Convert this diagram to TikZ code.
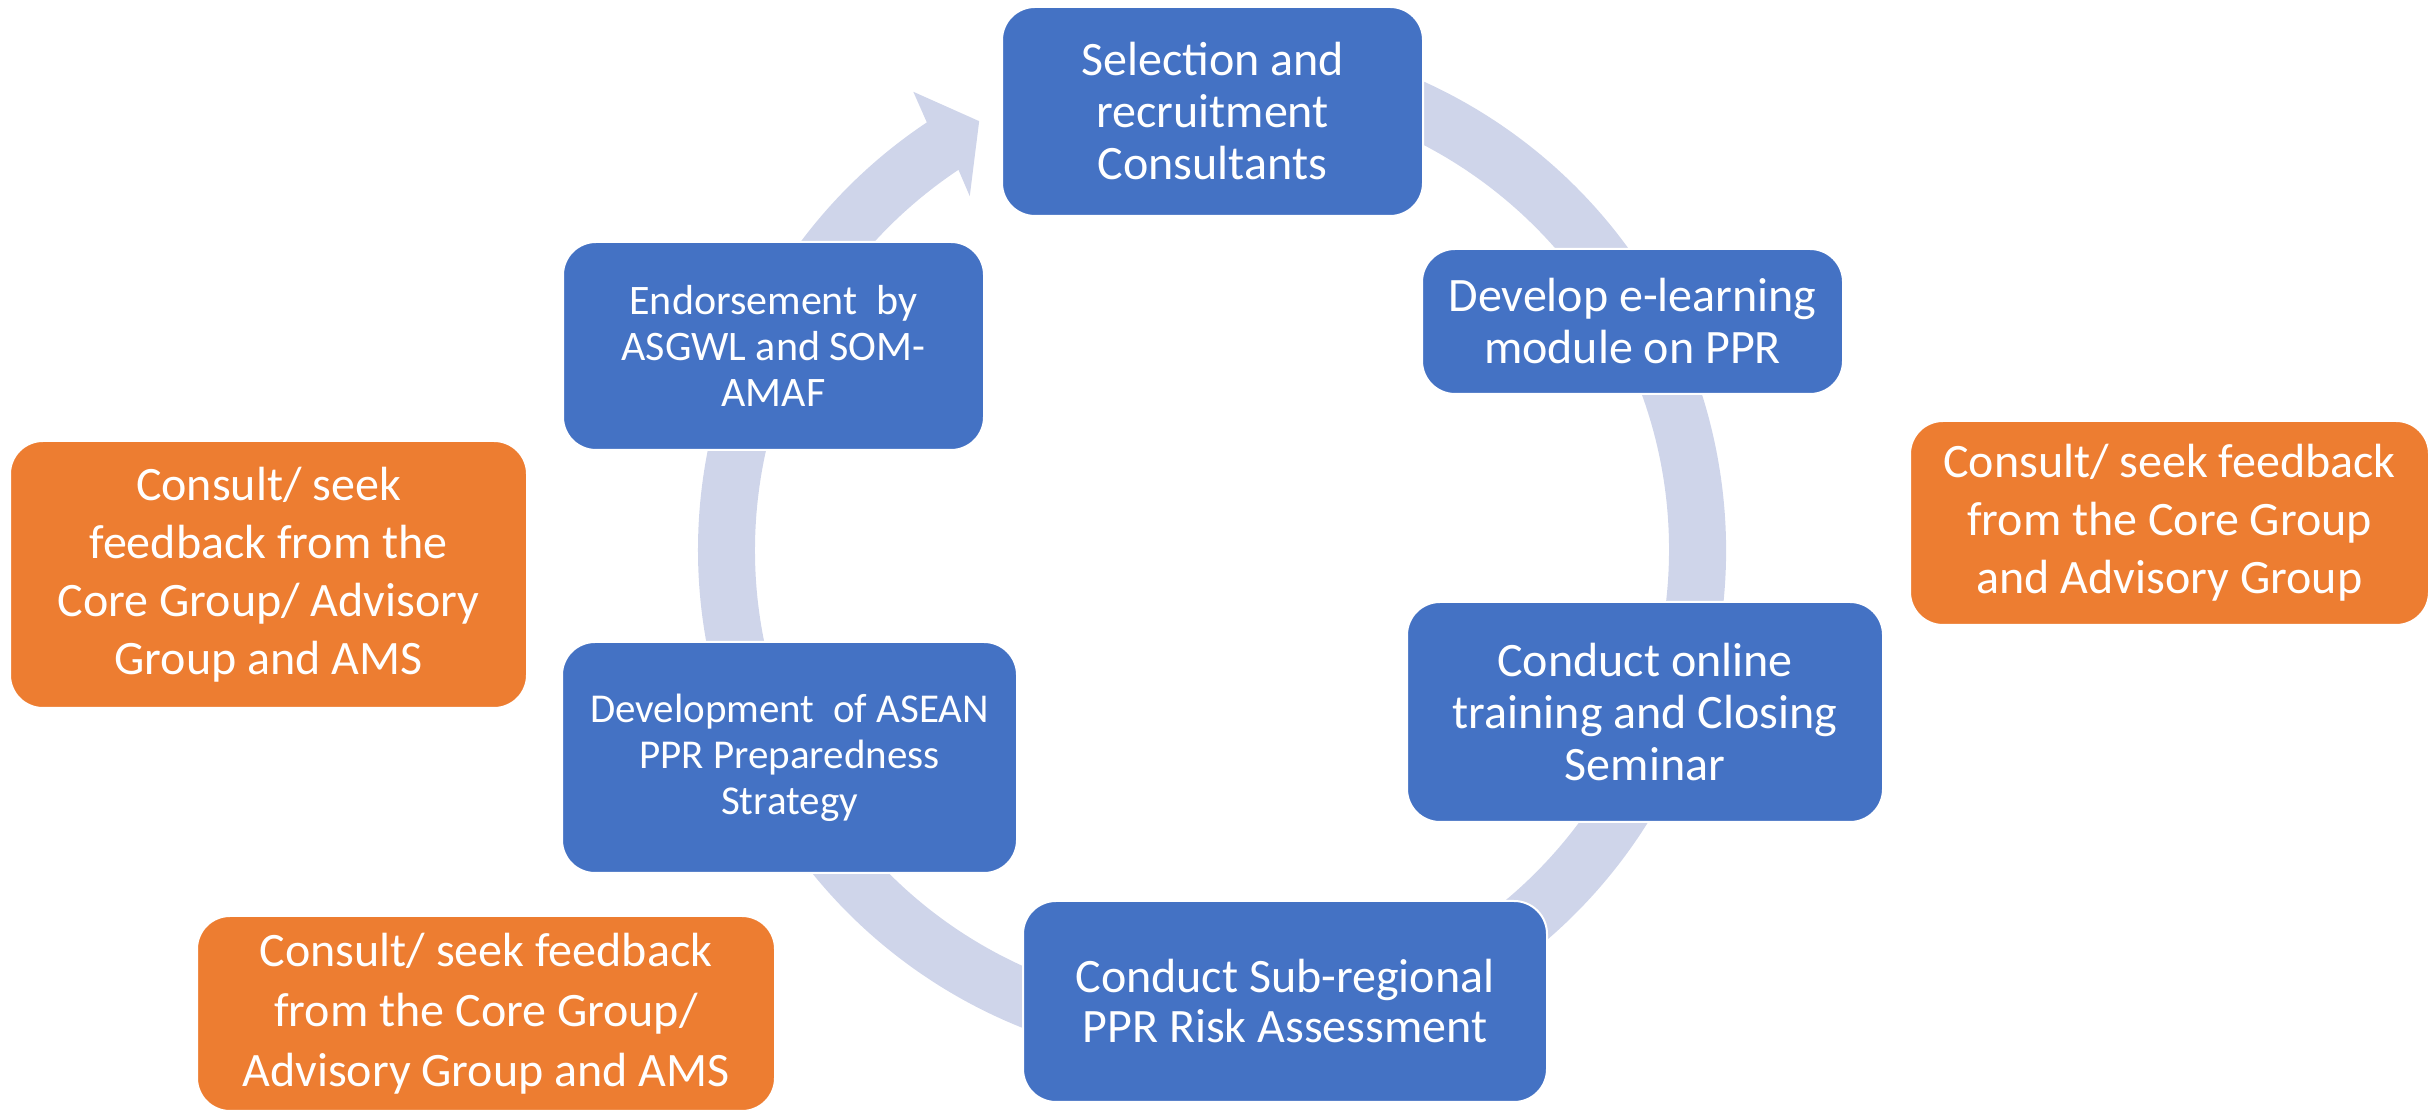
\documentclass[tikz,border=0pt]{standalone}
\usepackage{fontspec}
\setmainfont{Carlito}
\definecolor{boxblue}{HTML}{4472C4}
\definecolor{boxorange}{HTML}{ED7D31}
\definecolor{ringc}{HTML}{CFD5EA}
\tikzset{
  basebox/.style={rectangle, rounded corners=33pt, draw=white, line width=2pt,
    text=white, align=center, inner sep=0pt},
  stepbox/.style={basebox, fill=boxblue},
  notebox/.style={basebox, fill=boxorange, font=\fontsize{48}{58}\selectfont},
  bigtxt/.style={font=\fontsize{48}{52}\selectfont},
  midtxt/.style={font=\fontsize{42}{46}\selectfont},
}
\begin{document}
\begin{tikzpicture}[x=1pt,y=1pt]
\useasboundingbox (0,0) rectangle (2432,1113);
% circular arrow behind the steps
\begin{scope}[shift={(1212,563)}]
\fill[ringc] (100:514) arc[start angle=100, end angle=-236.3, radius=514]
  -- (123.1:547) -- (118.5:488) -- (124.4:428.8) -- (-236.3:457)
  arc[start angle=-236.3, end angle=100, radius=457] -- cycle;
\end{scope}
% steps
\node[stepbox, bigtxt, minimum width=421pt, minimum height=209pt] (sel) at (1212.5,1001.5)
  {Selection and\\recruitment\\Consultants};
\node[stepbox, bigtxt, minimum width=421pt, minimum height=145pt] (dev) at (1632.5,791.5)
  {Develop e-learning\\module on PPR};
\node[stepbox, bigtxt, minimum width=476pt, minimum height=220pt] (onl) at (1645,401)
  {Conduct online\\training and Closing\\Seminar};
\node[stepbox, font=\fontsize{48}{50}\selectfont, minimum width=524pt, minimum height=201pt] (sub) at (1285,111.5)
  {Conduct Sub-regional\\PPR Risk Assessment};
\node[stepbox, font=\fontsize{41}{46}\selectfont, minimum width=455pt, minimum height=231pt] (strat) at (789.5,355.5)
  {Development\ \ of ASEAN\\PPR Preparedness\\Strategy};
\node[stepbox, midtxt, minimum width=421pt, minimum height=208pt] (endo) at (773.5,767)
  {Endorsement\ \ by\\ASGWL and SOM-\\AMAF};
% consultation notes
\node[notebox, minimum width=517pt, minimum height=267pt] (noteL) at (268.5,538.5)
  {Consult/ seek\\feedback from the\\Core Group/ Advisory\\Group and AMS};
\node[notebox, minimum width=519pt, minimum height=204pt] (noteR) at (2169.5,590)
  {Consult/ seek feedback\\from the Core Group\\and Advisory Group};
\node[notebox, font=\fontsize{48}{60}\selectfont, minimum width=578pt, minimum height=195pt] (noteB) at (486,99.5)
  {Consult/ seek feedback\\from the Core Group/\\Advisory Group and AMS};
\end{tikzpicture}
\end{document}
